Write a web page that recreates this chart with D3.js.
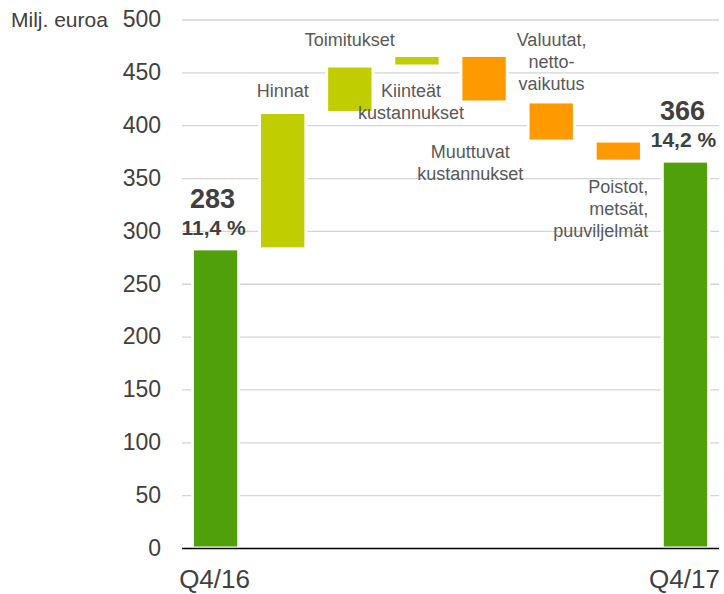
<!DOCTYPE html>
<html>
<head>
<meta charset="utf-8">
<script src="https://cdn.jsdelivr.net/npm/d3@7"></script>
<style>
  body { margin: 0; background: #fff; }
  text { font-family: "Liberation Sans", Arial, sans-serif; }
</style>
</head>
<body>
<svg width="724" height="594" id="mainsvg"></svg>
<script>
// data
const categories = ["Q4/16", "Hinnat", "Toimitukset", "Kiinteät kustannukset",
    "Valuutat, nettovaikutus", "Muuttuvat kustannukset", "Poistot, metsät, puuviljelmät", "Q4/17"];
const labelLines = [[], ["Hinnat"], ["Toimitukset"], ["Kiinteät", "kustannukset"],
    ["Valuutat,", "netto-", "vaikutus"], ["Muuttuvat", "kustannukset"],
    ["Poistot,", "metsät,", "puuviljelmät"], []];
const values = [283, 129, 44, 10, -44, -37, -19, 366];
const isTotal = [true, false, false, false, false, false, false, true];
const margins = ["11,4 %", "", "", "", "", "", "", "14,2 %"];
const yTicks = [0, 50, 100, 150, 200, 250, 300, 350, 400, 450, 500];
const unitLabel = "Milj. euroa";

const svg = d3.select("#mainsvg");
const plot = {left: 182, right: 719, top: 19.5, bottom: 548};

const x = d3.scaleBand().domain(categories)
    .range([plot.left, plot.right])
    .paddingInner(0.31).paddingOuter(0.155);
const y = d3.scaleLinear().domain([0, 500]).range([plot.bottom, plot.top]);

// waterfall start/end
let run = 0;
const bars = categories.map((c, i) => {
    let start, end;
    if (isTotal[i]) { start = 0; end = values[i]; run = values[i]; }
    else { start = run; end = run + values[i]; run = end; }
    return {cat: c, i, start, end, lo: Math.min(start, end), hi: Math.max(start, end)};
});

const colorOf = d => isTotal[d.i] ? "#50A00C" : (d.end > d.start ? "#C0CD00" : "#FF9900");

// grid
const yAxis = d3.axisLeft(y).tickValues(yTicks)
    .tickSize(-(plot.right - plot.left)).tickPadding(21);
const yg = svg.append("g").attr("transform", `translate(${plot.left},0)`).call(yAxis);
yg.select(".domain").remove();
yg.selectAll(".tick line").attr("stroke", "#d4d4d4").attr("stroke-width", 1.3);
yg.selectAll(".tick text").attr("fill", "#404040").attr("font-size", "23px")
    .attr("font-family", "Liberation Sans, Arial, sans-serif");
yg.selectAll(".tick").filter(d => d === 0).select("line").remove();

svg.append("text").attr("x", 11).attr("y", 27)
    .attr("font-size", "21px").attr("fill", "#404040").text(unitLabel);

// bars
svg.selectAll(".bar").data(bars).enter().append("rect")
    .attr("class", "bar")
    .attr("x", d => x(d.cat))
    .attr("width", x.bandwidth())
    .attr("y", d => y(d.hi))
    .attr("height", d => y(d.lo) - y(d.hi))
    .attr("fill", colorOf)
    .attr("stroke", "#fff").attr("stroke-width", 3);

// baseline
svg.append("line").attr("x1", plot.left).attr("x2", plot.right)
    .attr("y1", y(0) + 0.5).attr("y2", y(0) + 0.5)
    .attr("stroke", "#000").attr("stroke-width", 1.3);

// x labels for totals
const cx = d => x(d.cat) + x.bandwidth() / 2;
svg.selectAll(".xlab").data(bars.filter(d => isTotal[d.i])).enter().append("text")
    .attr("x", d => cx(d) - 1).attr("y", 588).attr("text-anchor", "middle")
    .attr("font-size", "26px").attr("fill", "#404040").text(d => d.cat);

// total value labels
const totals = bars.filter(d => isTotal[d.i]);
svg.selectAll(".tv").data(totals).enter().append("text")
    .attr("x", d => cx(d) - 3).attr("y", d => y(d.end) - 41)
    .attr("text-anchor", "middle").attr("font-size", "27px").attr("font-weight", "bold")
    .attr("fill", "#404040").text(d => d.end);
svg.selectAll(".tm").data(totals).enter().append("text")
    .attr("x", d => cx(d) - 2).attr("y", d => y(d.end) - 14)
    .attr("text-anchor", "middle").attr("font-size", "21px").attr("font-weight", "bold")
    .attr("fill", "#404040").text(d => margins[d.i]);

// category labels placement relative to bars
const place = {
    1: {dx: 0, anchor: "middle", ref: "top", dy: -16},
    2: {dx: 0, anchor: "middle", ref: "top", dy: -20},
    3: {dx: -6, anchor: "middle", ref: "bottom", dy: 31},
    4: {dx: 67.5, anchor: "middle", ref: "top", dy: -9},
    5: {dx: -81, anchor: "middle", ref: "bottom", dy: 17},
    6: {dx: 30, anchor: "end", ref: "bottom", dy: 32}
};
bars.filter(d => !isTotal[d.i]).forEach(d => {
    const p = place[d.i];
    const base = p.ref === "top" ? y(d.hi) : y(d.lo);
    const t = svg.append("text")
        .attr("text-anchor", p.anchor).attr("font-size", "18px").attr("fill", "#595959");
    labelLines[d.i].forEach((line, k) => {
        t.append("tspan").attr("x", cx(d) + p.dx).attr("y", base + p.dy + k * 22).text(line);
    });
});
</script>
</body>
</html>
